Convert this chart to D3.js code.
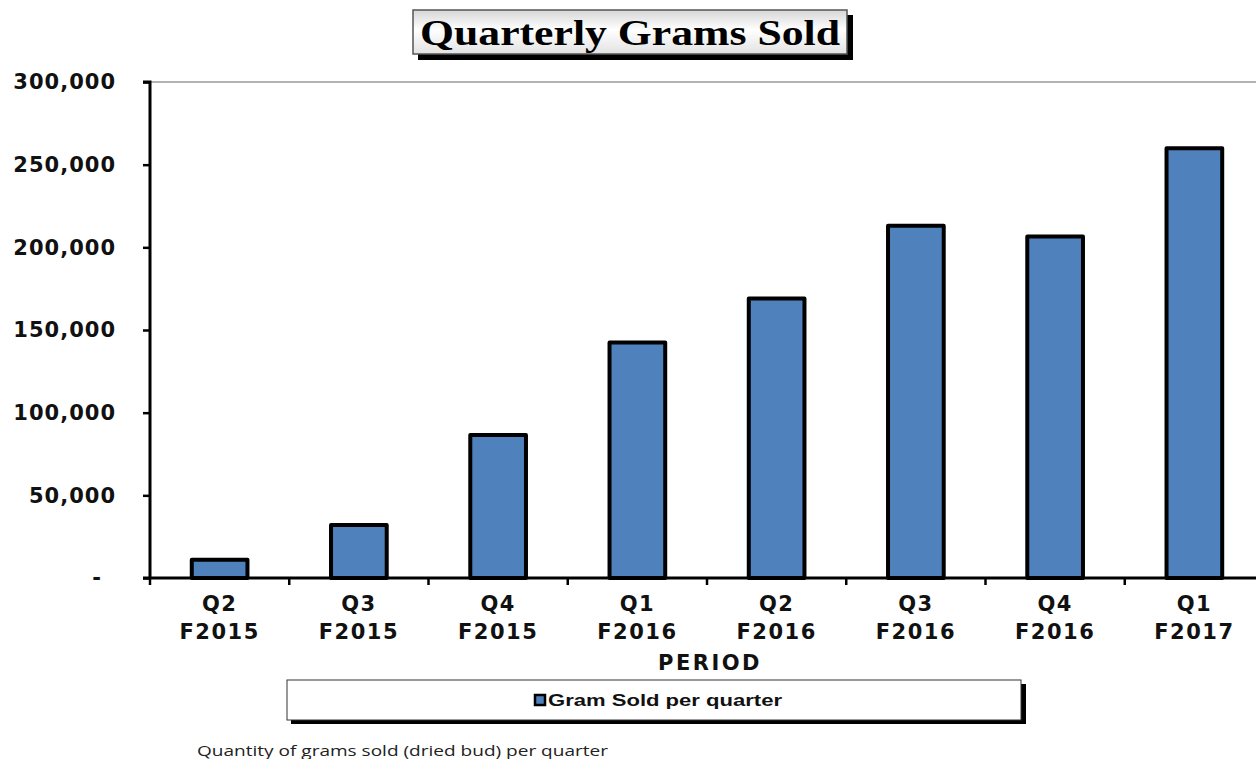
<!DOCTYPE html>
<html>
<head>
<meta charset="utf-8">
<script src="https://cdn.jsdelivr.net/npm/d3@7"></script>
<style>
  html, body { margin: 0; padding: 0; background: #fff; }
  svg { display: block; }
</style>
</head>
<body>
<svg id="chart"></svg>
<script>
const quarters = ['Q2', 'Q3', 'Q4', 'Q1', 'Q2', 'Q3', 'Q4', 'Q1'];
const years = ['F2015', 'F2015', 'F2015', 'F2016', 'F2016', 'F2016', 'F2016', 'F2017'];
const grams = [11000, 32000, 86500, 142500, 169000, 213000, 206500, 260000];
const yTicks = [0, 50000, 100000, 150000, 200000, 250000, 300000];

const width = 1256, height = 759;
const margin = { left: 150, right: -8, top: 82, bottom: 181 };
const boldFont = '"DejaVu Sans", Verdana, sans-serif';

const svg = d3.select('#chart').attr('width', width).attr('height', height);

const labels = quarters.map((q, i) => i);
const x = d3.scaleBand()
  .domain(labels)
  .range([margin.left, width - margin.right])
  .paddingInner(0.6)
  .paddingOuter(0.3);
const y = d3.scaleLinear()
  .domain([0, 300000])
  .range([height - margin.bottom, margin.top]);

// gradient for title box
const defs = svg.append('defs');
const grad = defs.append('linearGradient').attr('id', 'tgrad').attr('x1', 0).attr('y1', 0).attr('x2', 0).attr('y2', 1);
grad.append('stop').attr('offset', '0%').attr('stop-color', '#d6d6d6');
grad.append('stop').attr('offset', '45%').attr('stop-color', '#ffffff');
grad.append('stop').attr('offset', '100%').attr('stop-color', '#e2e2e2');

// top gridline at max
svg.append('line')
  .attr('x1', margin.left).attr('x2', width)
  .attr('y1', y(300000)).attr('y2', y(300000))
  .style('stroke', '#9a9a9a').style('stroke-width', 1.5);

// bars
svg.selectAll('rect.bar')
  .data(grams)
  .join('rect')
  .attr('class', 'bar')
  .attr('x', (d, i) => x(i))
  .attr('y', d => y(d))
  .attr('width', x.bandwidth())
  .attr('height', d => y(0) - y(d))
  .style('fill', '#4f81bd')
  .style('stroke', '#000')
  .style('stroke-width', 4)
  .style('stroke-linejoin', 'round');

// y axis
const yAxis = d3.axisLeft(y)
  .tickValues(yTicks)
  .tickSize(7)
  .tickFormat(d => d === 0 ? '-' : d3.format(',')(d));
const gy = svg.append('g')
  .attr('transform', `translate(${margin.left},0)`)
  .call(yAxis);
gy.select('.domain').style('stroke', '#000').style('stroke-width', 3)
  .attr('d', `M-7,${y(300000)}H0V${y(0)}`);
gy.selectAll('.tick line').style('stroke', '#000').style('stroke-width', 2.5);
gy.selectAll('.tick text')
  .attr('x', d => d === 0 ? -48 : -34)
  .style('font-family', boldFont)
  .style('font-weight', 'bold')
  .style('font-size', '21px')
  .style('letter-spacing', '1px')
  .style('fill', '#111');

// x axis line and boundary ticks
const step = x.step();
svg.append('line')
  .attr('x1', margin.left - 7).attr('x2', width)
  .attr('y1', y(0)).attr('y2', y(0))
  .style('stroke', '#000').style('stroke-width', 3);
svg.selectAll('line.xtick')
  .data(d3.range(0, grams.length + 1))
  .join('line')
  .attr('class', 'xtick')
  .attr('x1', i => x(0) - x.paddingOuter() * step + i * step)
  .attr('x2', i => x(0) - x.paddingOuter() * step + i * step)
  .attr('y1', y(0)).attr('y2', y(0) + 7)
  .style('stroke', '#000').style('stroke-width', 2.5);

// x labels
const xl = svg.selectAll('text.xl')
  .data(labels)
  .join('text')
  .attr('class', 'xl')
  .attr('x', i => x(i) + x.bandwidth() / 2)
  .attr('y', y(0) + 33)
  .attr('text-anchor', 'middle')
  .style('font-family', boldFont)
  .style('font-weight', 'bold')
  .style('font-size', '21px')
  .style('letter-spacing', '1.5px')
  .style('fill', '#111');
xl.append('tspan').attr('x', i => x(i) + x.bandwidth() / 2).text(i => quarters[i]);
xl.append('tspan').attr('x', i => x(i) + x.bandwidth() / 2).attr('dy', 28).text(i => years[i]);

// x axis title
svg.append('text')
  .attr('x', 710).attr('y', 670)
  .attr('text-anchor', 'middle')
  .style('font-family', boldFont)
  .style('font-weight', 'bold')
  .style('font-size', '21px')
  .style('letter-spacing', '2.5px')
  .style('fill', '#111')
  .text('PERIOD');

// title box
svg.append('rect').attr('x', 418).attr('y', 15).attr('width', 435).attr('height', 45).style('fill', '#000');
svg.append('rect').attr('x', 413).attr('y', 10).attr('width', 434).attr('height', 44)
  .style('fill', 'url(#tgrad)').style('stroke', '#555').style('stroke-width', 1.5);
svg.append('text')
  .attr('x', 420).attr('y', 45)
  .attr('textLength', 420)
  .attr('lengthAdjust', 'spacingAndGlyphs')
  .style('font-family', '"Liberation Serif", "Times New Roman", serif')
  .style('font-weight', 'bold')
  .style('font-size', '36px')
  .style('fill', '#000')
  .text('Quarterly Grams Sold');

// legend box
svg.append('rect').attr('x', 291).attr('y', 684).attr('width', 735).attr('height', 40).style('fill', '#000');
svg.append('rect').attr('x', 287).attr('y', 680).attr('width', 734).attr('height', 40)
  .style('fill', '#fff').style('stroke', '#333').style('stroke-width', 1);
svg.append('rect').attr('x', 535).attr('y', 695).attr('width', 10).attr('height', 10)
  .style('fill', '#4f81bd').style('stroke', '#000').style('stroke-width', 2.5);
svg.append('text')
  .attr('x', 548).attr('y', 706)
  .attr('textLength', 234)
  .attr('lengthAdjust', 'spacingAndGlyphs')
  .style('font-family', '"Liberation Sans", Arial, sans-serif')
  .style('font-weight', 'bold')
  .style('font-size', '17px')
  .style('fill', '#111')
  .text('Gram Sold per quarter');

// footnote
svg.append('text')
  .attr('x', 197).attr('y', 756)
  .attr('textLength', 411)
  .attr('lengthAdjust', 'spacingAndGlyphs')
  .style('font-family', '"Open Sans", sans-serif')
  .style('font-size', '15px')
  .style('fill', '#222')
  .text('Quantity of grams sold (dried bud) per quarter');
</script>
</body>
</html>
